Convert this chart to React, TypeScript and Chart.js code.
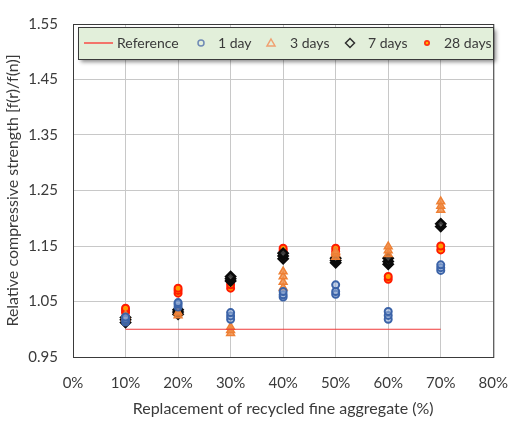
import React, { useEffect, useRef } from "react";
import { Chart, registerables } from "chart.js";

Chart.register(...registerables);

// ---- data ----
const categories = [10, 20, 30, 40, 50, 60, 70]; // % replacement
const xTicks = [0, 10, 20, 30, 40, 50, 60, 70, 80];
const yTicks = [0.95, 1.05, 1.15, 1.25, 1.35, 1.45, 1.55];
const referenceValue = 1.0;

const day1 = [
  [1.013, 1.018, 1.022],
  [1.04, 1.045, 1.048],
  [1.018, 1.024, 1.03],
  [1.058, 1.062, 1.068],
  [1.063, 1.068, 1.08],
  [1.018, 1.025, 1.032],
  [1.106, 1.111, 1.116],
];
const day3 = [
  [1.02, 1.025],
  [1.025, 1.03],
  [0.993, 0.998, 1.004],
  [1.075, 1.085, 1.095, 1.104],
  [1.13, 1.136, 1.14],
  [1.135, 1.142, 1.149],
  [1.215, 1.222, 1.23],
];
const day7 = [
  [1.012, 1.017, 1.021],
  [1.027, 1.031, 1.035],
  [1.087, 1.091, 1.095],
  [1.127, 1.132, 1.137],
  [1.12, 1.124, 1.128],
  [1.117, 1.122, 1.128],
  [1.185, 1.19],
];
const day28 = [
  [1.03, 1.034, 1.038],
  [1.065, 1.07, 1.074],
  [1.074, 1.08, 1.086],
  [1.138, 1.142, 1.146],
  [1.134, 1.14, 1.146],
  [1.09, 1.095],
  [1.143, 1.15],
];

const seriesNames = ["Reference", "1 day", "3 days", "7 days", "28 days"];

const toPoints = (vals: number[][]) =>
  vals.flatMap((arr, i) => arr.map((v) => ({ x: categories[i], y: v })));

const TEXT = "#3A3A3A";
const FONT = "Lato, 'Open Sans', sans-serif";

const legendPlugin = {
  id: "boxLegend",
  afterDraw(chart: any) {
    const ctx = chart.ctx as CanvasRenderingContext2D;
    const bx = 78, by = 27, bw = 415, bh = 32;
    ctx.save();
    ctx.shadowColor = "rgba(0,0,0,0.45)";
    ctx.shadowBlur = 4;
    ctx.shadowOffsetX = 3;
    ctx.shadowOffsetY = 3;
    ctx.fillStyle = "#E2EFDA";
    ctx.fillRect(bx, by, bw, bh);
    ctx.restore();
    ctx.save();
    ctx.strokeStyle = "#3A3A3A";
    ctx.lineWidth = 1;
    ctx.strokeRect(bx + 0.5, by + 0.5, bw, bh);
    ctx.beginPath();
    ctx.rect(bx, by, bw + 1, bh);
    ctx.clip();
    const cy = by + bh / 2;
    ctx.font = `14px ${FONT}`;
    ctx.textBaseline = "middle";
    const items = [
      { sym: 98, txt: 117 },
      { sym: 201, txt: 218 },
      { sym: 271, txt: 290 },
      { sym: 350, txt: 368 },
      { sym: 427, txt: 444 },
    ];
    // Reference line
    ctx.strokeStyle = "#FF2020";
    ctx.lineWidth = 1.2;
    ctx.beginPath();
    ctx.moveTo(84, cy);
    ctx.lineTo(113, cy);
    ctx.stroke();
    // 1 day
    ctx.strokeStyle = "#6F8AB5";
    ctx.lineWidth = 1.5;
    ctx.beginPath();
    ctx.arc(items[1].sym, cy, 3, 0, Math.PI * 2);
    ctx.stroke();
    // 3 days
    ctx.strokeStyle = "#F0A070";
    ctx.beginPath();
    ctx.moveTo(items[2].sym, cy - 4);
    ctx.lineTo(items[2].sym + 4, cy + 3);
    ctx.lineTo(items[2].sym - 4, cy + 3);
    ctx.closePath();
    ctx.stroke();
    // 7 days
    ctx.strokeStyle = "#303030";
    ctx.beginPath();
    ctx.moveTo(items[3].sym, cy - 4.5);
    ctx.lineTo(items[3].sym + 4.5, cy);
    ctx.lineTo(items[3].sym, cy + 4.5);
    ctx.lineTo(items[3].sym - 4.5, cy);
    ctx.closePath();
    ctx.stroke();
    // 28 days
    ctx.fillStyle = "#FF3010";
    ctx.beginPath();
    ctx.arc(items[4].sym, cy, 3, 0, Math.PI * 2);
    ctx.fill();
    ctx.fillStyle = "#FFB000";
    ctx.beginPath();
    ctx.arc(items[4].sym, cy, 1.3, 0, Math.PI * 2);
    ctx.fill();
    ctx.fillStyle = TEXT;
    seriesNames.forEach((n, i) => ctx.fillText(n, items[i].txt, cy + 0.5));
    ctx.restore();
  },
};

const frameplugin = {
  id: "frame",
  afterDatasetsDraw(chart: any) {
    const { ctx, chartArea: a } = chart;
    ctx.save();
    ctx.strokeStyle = "#3A3A3A";
    ctx.lineWidth = 1;
    ctx.strokeRect(a.left + 0.5, a.top + 0.5, a.right - a.left, a.bottom - a.top);
    ctx.restore();
  },
};

export default function App() {
  const ref = useRef<HTMLCanvasElement>(null);
  useEffect(() => {
    if (!ref.current) return;
    const chart = new Chart(ref.current, {
      type: "scatter",
      data: {
        datasets: [
          {
            label: seriesNames[0],
            data: [
              { x: categories[0], y: referenceValue },
              { x: categories[categories.length - 1], y: referenceValue },
            ],
            showLine: true,
            borderColor: "#F03A3A",
            borderWidth: 1,
            pointRadius: 0,
          },
          {
            label: seriesNames[1],
            data: toPoints(day1),
            pointStyle: "circle",
            pointRadius: 3.5,
            borderWidth: 2,
            borderColor: "#3B63A8",
            backgroundColor: "rgba(150,175,215,0.6)",
          },
          {
            label: seriesNames[2],
            data: toPoints(day3),
            pointStyle: "triangle",
            pointRadius: 4.5,
            borderWidth: 1.5,
            borderColor: "#EE8035",
            backgroundColor: "rgba(240,140,70,0.8)",
          },
          {
            label: seriesNames[3],
            data: toPoints(day7),
            pointStyle: "rectRot",
            pointRadius: 4.5,
            borderWidth: 2.5,
            borderColor: "#0A0A0A",
            backgroundColor: "rgba(90,90,90,0.6)",
          },
          {
            label: seriesNames[4],
            data: toPoints(day28),
            pointStyle: "circle",
            pointRadius: 3.5,
            borderWidth: 2,
            borderColor: "#FF1A00",
            backgroundColor: "#FF9A00",
          },
        ],
      },
      options: {
        animation: false,
        responsive: true,
        maintainAspectRatio: false,
        layout: { padding: { top: 13, right: 19, left: 0, bottom: 0 } },
        plugins: { legend: { display: false }, tooltip: { enabled: false } },
        scales: {
          x: {
            type: "linear",
            min: xTicks[0],
            max: xTicks[xTicks.length - 1],
            afterBuildTicks: (s: any) => {
              s.ticks = xTicks.map((v) => ({ value: v }));
            },
            afterFit: (s: any) => {
              s.height = 64;
            },
            ticks: {
              callback: (v: any) => `${v}%`,
              color: TEXT,
              font: { family: FONT, size: 15 },
              padding: 17,
              maxRotation: 0,
            },
            grid: { color: "#C8C8C8", drawTicks: false, lineWidth: 1 },
            border: { display: false },
            title: {
              display: true,
              text: "Replacement of recycled fine aggregate (%)",
              color: TEXT,
              font: { family: FONT, size: 16 },
              padding: { top: 0, bottom: 3 },
            },
          },
          y: {
            type: "linear",
            min: yTicks[0],
            max: yTicks[yTicks.length - 1],
            afterBuildTicks: (s: any) => {
              s.ticks = yTicks.map((v) => ({ value: v }));
            },
            afterFit: (s: any) => {
              s.width = 73;
            },
            ticks: {
              callback: (v: any) => Number(v).toFixed(2),
              color: TEXT,
              font: { family: FONT, size: 15 },
              padding: 15,
            },
            grid: { color: "#C8C8C8", drawTicks: false, lineWidth: 1 },
            border: { display: false },
            title: {
              display: true,
              text: "Relative compressive strength [f(r)/f(n)]",
              color: TEXT,
              font: { family: FONT, size: 16 },
              padding: { top: 3, bottom: 0 },
            },
          },
        },
      },
      plugins: [frameplugin, legendPlugin],
    } as any);
    return () => chart.destroy();
  }, []);
  return (
    <div style={{ position: "fixed", left: 0, top: 0, width: 525, height: 421, background: "#fff" }}>
      <canvas ref={ref} />
    </div>
  );
}
